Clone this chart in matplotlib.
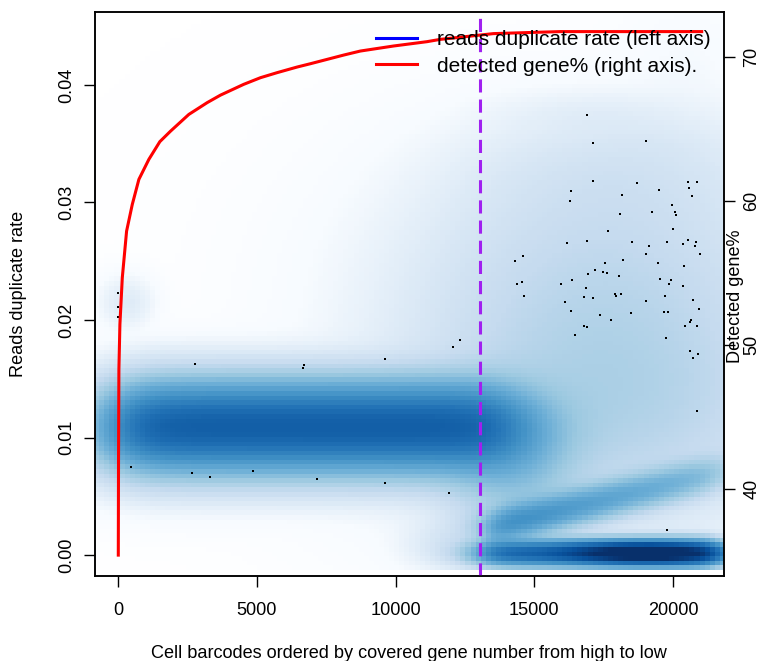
import numpy as np
import matplotlib
matplotlib.use("Agg")
import matplotlib.pyplot as plt
from matplotlib.colors import LinearSegmentedColormap
from matplotlib.lines import Line2D

plt.rcParams['font.family'] = ['Liberation Sans', 'DejaVu Sans']

# detected gene% curve (right axis), cells ranked by covered gene number
gene_rank = [0, 8, 22, 58, 144, 299, 504, 742, 1102, 1498, 1884, 2543, 3206,
             3685, 4524, 5126, 5727, 6448, 6927, 8126, 8728, 9927, 11130,
             11609, 13529, 15932, 21036]
gene_pct = [35.4, 42.0, 48.3, 51.42, 54.65, 57.89, 59.74, 61.48, 62.87, 64.10,
            64.83, 65.99, 66.81, 67.33, 68.08, 68.54, 68.89, 69.28, 69.51,
            70.11, 70.39, 70.74, 71.04, 71.20, 71.60, 71.74, 71.74]

cutoff = 13050

# outlier points drawn by smoothScatter
out_x = [0, 0, 0, 2748, 6686, 6664, 9628, 468, 2666, 3299, 4863, 7168, 9628,
         12067, 12330, 11923, 19775, 20856,
         16894, 17110, 17110, 16317, 16281, 19019, 18705, 20531, 20856, 20578,
         19497, 18154, 20675, 19955, 18082, 19235, 20063, 20110, 20002, 17661,
         16184, 16894, 14588, 14300, 17542, 17182, 16930, 17470, 17614, 16353,
         15957, 14552, 14372, 16858, 14624, 16786, 17110, 16101, 16317, 17373,
         16786, 16894, 16461, 18514, 19775, 20531, 20820, 20351, 19127, 20784,
         19019, 20964, 18190, 19451, 20387, 18046, 19523, 19919, 19847, 20351,
         17902, 18118, 17938, 19703, 19019, 20711, 20928, 18478, 19667, 19811,
         17758, 20639, 20603, 20423, 20856, 19739, 20603, 20892, 20711]
out_y = [0.02228, 0.02114, 0.02029, 0.01627, 0.01621, 0.01595, 0.01669,
         0.00753, 0.00702, 0.00668, 0.00711, 0.00651, 0.00617,
         0.01774, 0.01831, 0.00524, 0.00215, 0.01227,
         0.03744, 0.03508, 0.03185, 0.03100, 0.03015, 0.03525, 0.03168,
         0.03177, 0.03177, 0.03123, 0.03106, 0.03064, 0.03055, 0.02979,
         0.02902, 0.02919, 0.02919, 0.02893, 0.02775, 0.02757, 0.02656,
         0.02673, 0.02545, 0.02503, 0.02485, 0.02426, 0.02392, 0.02409,
         0.02400, 0.02341, 0.02307, 0.02324, 0.02307, 0.02273, 0.02205,
         0.02196, 0.02188, 0.02154, 0.02077, 0.02043, 0.01950, 0.01941,
         0.01873, 0.02664, 0.02664, 0.02681, 0.02664, 0.02647, 0.02630,
         0.02630, 0.02562, 0.02562, 0.02514, 0.02485, 0.02462, 0.02375,
         0.02352, 0.02341, 0.02307, 0.02290, 0.02222, 0.02222, 0.02205,
         0.02205, 0.02162, 0.02171, 0.02094, 0.02060, 0.02069, 0.02069,
         0.02001, 0.02001, 0.01984, 0.01952, 0.01952, 0.01848, 0.01737,
         0.01712, 0.01678]

# density bands: x extent, y centre at ends, shade at ends
band_x0 = [200, 13300, 13500]
band_x1 = [13900, 21400, 21600]
band_y0 = [0.0109, 0.00017, 0.0024]
band_y1 = [0.0109, 0.00017, 0.0070]
band_s0 = [0.84, 0.80, 0.68]
band_s1 = [0.84, 0.86, 0.50]
band_sy = [0.0020, 0.0006, 0.0009]
band_e0 = [600, 350, 300]
band_e1 = [700, 250, 400]

# diffuse blobs
blob_x = [19000, 17500, 17500, 18000, 17200, 19500, 300, 14200, 12300, 20500]
blob_y = [0.00017, 0.0140, 0.0240, 0.0320, 0.0375, 0.0350, 0.0215, 0.0085, 0.0010, 0.0410]
blob_sx = [1600, 3500, 3500, 3000, 2000, 1500, 500, 1300, 900, 1200]
blob_sy = [0.0005, 0.0055, 0.0050, 0.0030, 0.0010, 0.0012, 0.0011, 0.0030, 0.0012, 0.0030]
blob_s = [1.0, 0.40, 0.33, 0.26, 0.18, 0.16, 0.22, 0.50, 0.28, 0.12]

blues9 = ["#F7FBFF", "#DEEBF7", "#C6DBEF", "#9ECAE1", "#6BAED6",
          "#4292C6", "#2171B5", "#08519C", "#08306B"]

# build smoothed density image on a 128x128 grid
nbin = 128
gx = np.linspace(-1150, 22150, nbin)
gy = np.linspace(-0.00106, 0.0485, nbin)
X, Y = np.meshgrid(gx, gy)
raw = np.zeros_like(X)
for i in range(len(band_x0)):
    t = np.clip((X - band_x0[i]) / (band_x1[i] - band_x0[i]), 0, 1)
    yc = band_y0[i] + (band_y1[i] - band_y0[i]) * t
    sh = band_s0[i] + (band_s1[i] - band_s0[i]) * t
    step = 1 / (1 + np.exp(-(X - band_x0[i]) / band_e0[i])) / (1 + np.exp((X - band_x1[i]) / band_e1[i]))
    raw += sh**4 * step * np.exp(-(Y - yc)**2 / (2 * band_sy[i]**2))
for i in range(len(blob_x)):
    raw += blob_s[i]**4 * np.exp(-(X - blob_x[i])**2 / (2 * blob_sx[i]**2)
                                 - (Y - blob_y[i])**2 / (2 * blob_sy[i]**2))
shade = np.clip(raw**0.25, 0, 1)

cmap = LinearSegmentedColormap.from_list("smooth", ["white"] + blues9, N=256)

fig = plt.figure(figsize=(7.66, 6.61), dpi=100)
ax = fig.add_axes([95/766, 85/661, 629/766, 564/661])

dx = gx[1] - gx[0]
dy = gy[1] - gy[0]
ax.imshow(shade, origin='lower', cmap=cmap, vmin=0, vmax=1, aspect='auto',
          interpolation='nearest',
          extent=[gx[0] - dx/2, gx[-1] + dx/2, gy[0] - dy/2, gy[-1] + dy/2])
ax.plot(out_x, out_y, 's', color='black', ms=1.5, mew=0, zorder=3)
ax.axvline(cutoff, color='#A020F0', lw=2.2, dashes=[4.3, 2.3], zorder=4)

ax.set_xlim(-840, 21840)
ax.set_ylim(-0.00178, 0.0462)
ax.set_xticks([0, 5000, 10000, 15000, 20000])
ax.set_yticks([0.00, 0.01, 0.02, 0.03, 0.04])
ax.set_yticklabels(["0.00", "0.01", "0.02", "0.03", "0.04"], rotation=90, va='center')
ax.tick_params(labelsize=13.1, length=8, width=1, pad=11)
ax.tick_params(axis='y', pad=6)

ax2 = ax.twinx()
ax2.plot(gene_rank, gene_pct, color='#FF0000', lw=2.2, zorder=5)
ax2.set_ylim(33.95, 73.1)
ax2.set_yticks([40, 50, 60, 70])
ax2.set_yticklabels(["40", "50", "60", "70"], rotation=90, va='center')
ax2.tick_params(labelsize=13.1, length=8, width=1, pad=6)

for a in (ax, ax2):
    for s in a.spines.values():
        s.set_linewidth(1.1)

fig.text(19/766, 1 - 294/661, "Reads duplicate rate", rotation=90,
         ha='center', va='center', fontsize=13.1)
fig.text(735/766, 1 - 296/661, "Detected gene%", rotation=90,
         ha='center', va='center', fontsize=13.1)
fig.text(409/766, 1 - 654/661, "Cell barcodes ordered by covered gene number from high to low",
         ha='center', va='center', fontsize=13.1)

handles = [Line2D([], [], color='#0000FF', lw=2.2),
           Line2D([], [], color='#FF0000', lw=2.2)]
ax2.legend(handles, ["reads duplicate rate (left axis)", "detected gene% (right axis)."],
           loc='upper left', bbox_to_anchor=((376 - 95)/629, 1 - 18/564),
           frameon=False, fontsize=15, handlelength=1.98, handletextpad=0.93,
           borderpad=0, borderaxespad=0, labelspacing=0.36)

fig.savefig("out.png", dpi=100)
